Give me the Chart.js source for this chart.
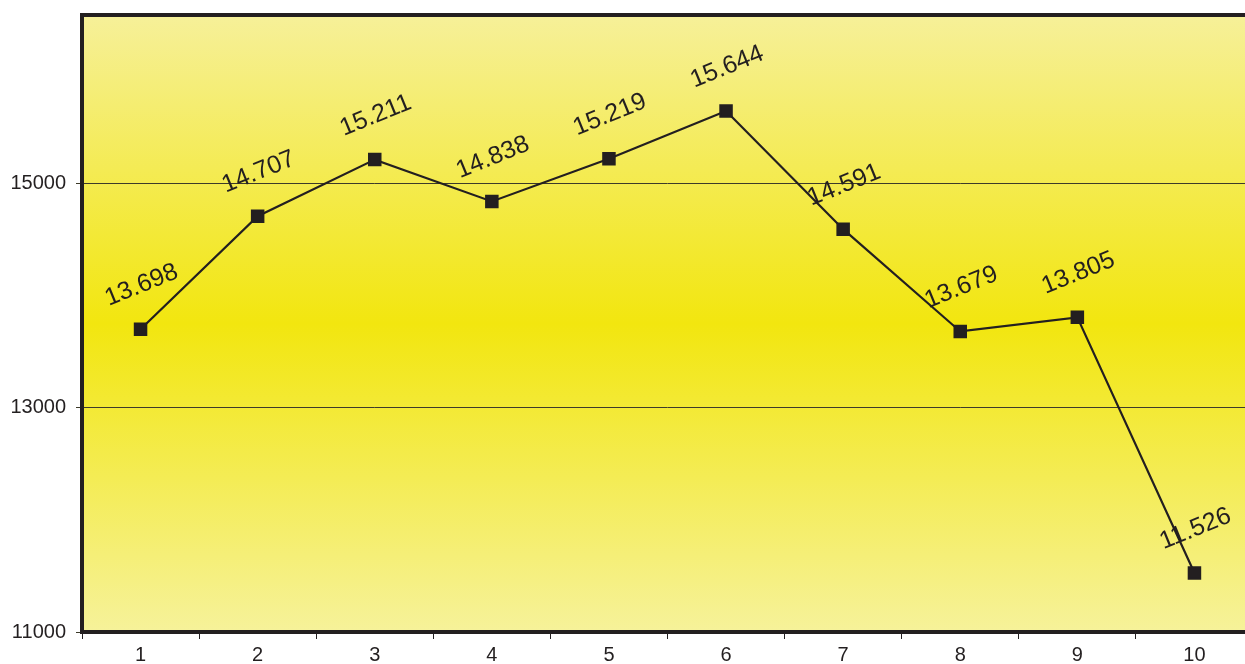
<!DOCTYPE html>
<html lang="en">
  <head>
    <meta charset="UTF-8" />
    <title>Line chart</title>
    <script src="https://cdn.jsdelivr.net/npm/chart.js@4"></script>
    <style>
      html, body { margin: 0; padding: 0; background: #fff; overflow: hidden; }
      #clip { position: absolute; left: 0; top: 0; width: 1245px; height: 664px; overflow: hidden; }
      #chart { position: absolute; left: 0; top: 0; }
    </style>
  </head>
  <body>
    <div id="clip"><canvas id="chart" width="1253" height="664"></canvas></div>

    <script>
      // Chart data
      const categories = ["1", "2", "3", "4", "5", "6", "7", "8", "9", "10"];
      const values = [13698, 14707, 15211, 14838, 15219, 15644, 14591, 13679, 13805, 11526];
      const valueLabels = ["13.698", "14.707", "15.211", "14.838", "15.219", "15.644", "14.591", "13.679", "13.805", "11.526"];
      const yTicks = [11000, 13000, 15000];

      const ink = "#231f20";
      const font = "'Liberation Sans', Arial, sans-serif";

      // yellow gradient behind the plot + thick frame
      const backdrop = {
        id: "backdrop",
        beforeDraw(chart) {
          const { ctx, chartArea: a } = chart;
          const g = ctx.createLinearGradient(0, a.top, 0, a.bottom);
          g.addColorStop(0, "#f6f099");
          g.addColorStop(0.5, "#f2e60f");
          g.addColorStop(1, "#f6f29a");
          ctx.save();
          ctx.fillStyle = g;
          ctx.fillRect(a.left, a.top, a.right - a.left, a.bottom - a.top);
          ctx.restore();
        },
        afterDraw(chart) {
          const { ctx, chartArea: a } = chart;
          ctx.save();
          ctx.strokeStyle = ink;
          ctx.lineWidth = 4;
          ctx.strokeRect(a.left, a.top, a.right - a.left, a.bottom - a.top);
          ctx.restore();
        },
      };

      // rotated value labels above each point
      const pointLabels = {
        id: "pointLabels",
        afterDatasetsDraw(chart) {
          const { ctx } = chart;
          const meta = chart.getDatasetMeta(0);
          ctx.save();
          ctx.fillStyle = ink;
          ctx.font = "25px " + font;
          ctx.textAlign = "center";
          ctx.textBaseline = "middle";
          meta.data.forEach((pt, i) => {
            ctx.save();
            ctx.translate(pt.x + 1, pt.y - 44);
            ctx.rotate((-22 * Math.PI) / 180);
            ctx.fillText(valueLabels[i], 0, 0);
            ctx.restore();
          });
          ctx.restore();
        },
      };

      new Chart(document.getElementById("chart"), {
        type: "line",
        data: {
          labels: categories,
          datasets: [
            {
              data: values,
              borderColor: ink,
              borderWidth: 2.2,
              pointStyle: "rect",
              pointRadius: 8,
              pointBackgroundColor: ink,
              pointBorderColor: ink,
              tension: 0,
            },
          ],
        },
        options: {
          responsive: false,
          animation: false,
          layout: { autoPadding: false, padding: { top: 15, right: 0, left: 0, bottom: 0 } },
          plugins: { legend: { display: false }, tooltip: { enabled: false } },
          scales: {
            x: {
              offset: true,
              grid: {
                offset: true,
                drawOnChartArea: false,
                drawTicks: true,
                tickLength: 7,
                color: ink,
              },
              border: { display: false },
              ticks: {
                color: ink,
                padding: 4,
                font: { family: font, size: 20 },
              },
              afterFit(scale) {
                scale.height = 32;
                scale.paddingLeft = 0;
                scale.paddingRight = 0;
              },
            },
            y: {
              min: 11000,
              max: 16500,
              afterBuildTicks(scale) {
                scale.ticks = yTicks.map((v) => ({ value: v }));
              },
              grid: {
                color: "#3c3a2a",
                lineWidth: 1,
                drawTicks: true,
                tickLength: 6,
              },
              border: { display: false },
              ticks: {
                color: ink,
                padding: 10,
                font: { family: font, size: 20 },
                callback: (v) => String(v),
              },
              afterFit(scale) {
                scale.width = 82;
                scale.paddingTop = 0;
                scale.paddingBottom = 0;
              },
            },
          },
        },
        plugins: [backdrop, pointLabels],
      });
    </script>
  </body>
</html>
